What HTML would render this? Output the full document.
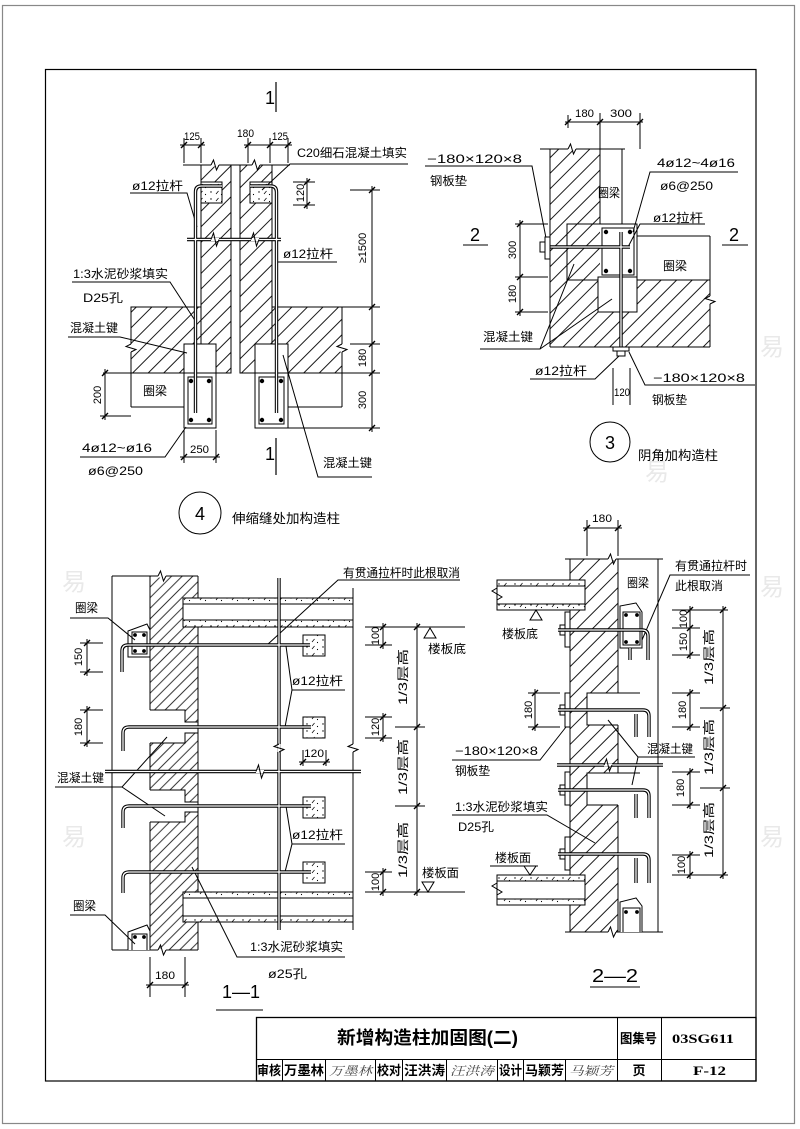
<!DOCTYPE html>
<html><head><meta charset="utf-8">
<style>
html,body{margin:0;padding:0;background:#fff;}
svg{display:block;}
text{font-family:"Liberation Sans","Noto Sans CJK SC",sans-serif;fill:#000;stroke:none;}
.c{font-size:12px;}
.n{font-size:11px;}
.b{font-size:18px;}
.t{font-family:"Liberation Sans","Noto Sans CJK SC",sans-serif;font-weight:bold;font-size:13px;}
.sg{font-family:"Liberation Serif","Noto Serif CJK SC",serif;font-style:italic;font-size:12px;fill:#444;}
</style></head><body>
<svg width="800" height="1129" viewBox="0 0 800 1129" xmlns="http://www.w3.org/2000/svg">
<defs>
<pattern id="h" width="11" height="11" patternUnits="userSpaceOnUse" patternTransform="rotate(45)">
<line x1="5.5" y1="0" x2="5.5" y2="11" stroke="#000" stroke-width="0.9"/>
</pattern>
<pattern id="h2" width="7.5" height="7.5" patternUnits="userSpaceOnUse" patternTransform="rotate(45)">
<line x1="3.75" y1="0" x2="3.75" y2="7.5" stroke="#000" stroke-width="0.8"/>
</pattern>
<pattern id="st" width="16" height="7" patternUnits="userSpaceOnUse">
<circle cx="3" cy="3" r="0.7" fill="#000"/><line x1="8" y1="5" x2="10.5" y2="2" stroke="#000" stroke-width="0.7"/><circle cx="13.5" cy="5.5" r="0.6" fill="#000"/>
</pattern>
<g id="rods" fill="none">
<!-- detail 4 -->
<path d="M195.5,413 L195.5,192 Q195.5,186 201.5,186 L222,186"/>
<path d="M276.5,413 L276.5,192 Q276.5,186 270.5,186 L250,186"/>
<path d="M187,239.5 L281,239.5"/>
<!-- detail 3 -->
<path d="M540,247 L630,247"/>
<path d="M621,232 L621,354"/>
<!-- 1-1 -->
<path d="M279,578 L279,930"/>
<path d="M105,771.5 L361,771.5"/>
<path d="M310,645 L128,645 Q122,645 122,651 L122,672"/>
<path d="M311,727 L129,727 Q123,727 123,733 L123,751"/>
<path d="M311,806 L129,806 Q123,806 123,812 L123,828"/>
<path d="M311,872 L129,872 Q123,872 123,878 L123,893"/>
<!-- 2-2 -->
<path d="M558,630 L642,630 Q648,630 648,636 L648,660"/>
<path d="M558,710 L643,710 Q649,710 649,716 L649,737"/>
<path d="M558,790 L643,790 Q649,790 649,796 L649,818"/>
<path d="M558,854 L643,854 Q649,854 649,860 L649,883"/>
<path d="M557,765 L663,765"/>
<path d="M630,648 L630,660 M636,714 L636,737 M636,794 L636,818 M636,858 L636,883"/>
</g>
</defs>

<!-- frames -->
<rect x="2.5" y="5.5" width="792" height="1118" fill="none" stroke="#888" stroke-width="1.2"/>
<rect x="45.5" y="69.5" width="710.5" height="1011.5" fill="none" stroke="#000" stroke-width="1.2"/>

<!-- faint watermark -->
<g style="font-family:'Noto Sans CJK SC',sans-serif;font-size:24px">
<text x="62" y="590" style="fill:#e9e9e9">易</text>
<text x="62" y="845" style="fill:#e9e9e9">易</text>
<text x="760" y="355" style="fill:#e9e9e9">易</text>
<text x="760" y="595" style="fill:#e9e9e9">易</text>
<text x="760" y="845" style="fill:#e9e9e9">易</text>
<text x="645" y="480" style="fill:#e9e9e9">易</text>
</g>

<g fill="none" stroke="#000" stroke-width="1">
<!-- ================= DETAIL 4 ================= -->
<rect x="131" y="307" width="70" height="66" fill="url(#h)"/>
<rect x="272" y="307" width="70" height="66" fill="url(#h)"/>
<rect x="201" y="165" width="30" height="208" fill="url(#h)"/>
<rect x="240" y="165" width="32" height="208" fill="url(#h)"/>
<line x1="183" y1="165" x2="290" y2="165"/>
<rect x="201" y="182" width="21" height="21" fill="#fff"/>
<rect x="201" y="182" width="21" height="21" fill="url(#st)"/>
<rect x="250" y="182" width="22" height="21" fill="#fff"/>
<rect x="250" y="182" width="22" height="21" fill="url(#st)"/>
<rect x="184" y="344" width="32" height="29" fill="#fff"/>
<rect x="255" y="344" width="33" height="29" fill="#fff"/>
<rect x="184" y="373" width="32" height="55" fill="#fff"/>
<rect x="188" y="377" width="24" height="47"/>
<rect x="255" y="373" width="33" height="55" fill="#fff"/>
<rect x="259" y="377" width="25" height="47"/>
<line x1="103" y1="373" x2="184" y2="373"/>
<line x1="131" y1="407" x2="184" y2="407"/>
<line x1="131" y1="373" x2="131" y2="407"/>
<line x1="288" y1="373" x2="380" y2="373"/>
<line x1="288" y1="407" x2="342" y2="407"/>
<line x1="342" y1="373" x2="342" y2="407"/>
<line x1="288" y1="428" x2="380" y2="428"/>
<line x1="100" y1="416" x2="131" y2="416"/>
<!-- section lines -->
<line x1="276" y1="82" x2="276" y2="112" stroke-width="1.2"/>
<line x1="276" y1="438" x2="276" y2="475" stroke-width="1.2"/>
<!-- dims -->
<line x1="180" y1="145" x2="205" y2="145"/>
<line x1="184" y1="138" x2="184" y2="163"/>
<line x1="201" y1="138" x2="201" y2="163"/>
<line x1="244" y1="145" x2="292" y2="145"/>
<line x1="248" y1="138" x2="248" y2="163"/>
<line x1="270" y1="138" x2="270" y2="163"/>
<line x1="288" y1="138" x2="288" y2="163"/>
<line x1="293" y1="182" x2="315" y2="182"/>
<line x1="293" y1="205" x2="315" y2="205"/>
<line x1="307" y1="178" x2="307" y2="209"/>
<line x1="350" y1="190" x2="380" y2="190"/>
<line x1="342" y1="307" x2="380" y2="307"/>
<line x1="350" y1="344" x2="380" y2="344"/>
<line x1="372" y1="186" x2="372" y2="432"/>
<line x1="105" y1="369" x2="105" y2="420"/>
<line x1="184" y1="430" x2="184" y2="463"/>
<line x1="216" y1="430" x2="216" y2="463"/>
<line x1="180" y1="457" x2="220" y2="457"/>
<!-- leaders -->
<polyline points="130,193 187,193 197,227"/>
<polyline points="408,164 290,164 262,190"/>
<line x1="276" y1="262" x2="337" y2="262"/>
<polyline points="72,282 170,282 196,322"/>
<polyline points="68,337 120,337 187,353"/>
<polyline points="80,457 165,457 186,427"/>
<polyline points="372,477 318,477 283,355"/>
<circle cx="200" cy="513" r="21"/>

<!-- ================= DETAIL 3 ================= -->
<rect x="550" y="149" width="50" height="198" fill="url(#h)" stroke="none"/>
<rect x="600" y="280" width="110" height="67" fill="url(#h)" stroke="none"/>
<line x1="550" y1="149" x2="550" y2="347"/>
<line x1="600" y1="149" x2="600" y2="224"/>
<line x1="540" y1="149" x2="625" y2="149"/>
<line x1="622" y1="149" x2="622" y2="224"/>
<rect x="567" y="224" width="70" height="56"/>
<rect x="602" y="228" width="32" height="47" fill="#fff"/>
<rect x="598" y="277" width="39" height="35" fill="#fff"/>
<line x1="637" y1="236" x2="710" y2="236"/>
<line x1="637" y1="280" x2="710" y2="280"/>
<line x1="710" y1="236" x2="710" y2="347"/>
<line x1="550" y1="347" x2="710" y2="347"/>
<!-- dims -->
<line x1="565" y1="122" x2="643" y2="122"/>
<line x1="568" y1="115" x2="568" y2="128"/>
<line x1="600" y1="113" x2="600" y2="149"/>
<line x1="640" y1="113" x2="640" y2="149"/>
<line x1="520" y1="220" x2="520" y2="316"/>
<line x1="515" y1="224" x2="548" y2="224"/>
<line x1="515" y1="277" x2="548" y2="277"/>
<line x1="515" y1="312" x2="548" y2="312"/>
<line x1="613" y1="368" x2="613" y2="405"/>
<line x1="630" y1="368" x2="630" y2="405"/>
<!-- section marks -->
<line x1="463" y1="245" x2="488" y2="245"/>
<line x1="722" y1="245" x2="748" y2="245"/>
<!-- leaders -->
<polyline points="425,166 532,166 546,238"/>
<polyline points="738,172 650,172 633,232"/>
<polyline points="705,224 640,224 628,247"/>
<polyline points="480,349 540,349 574,264"/>
<line x1="540" y1="349" x2="612" y2="299"/>
<polyline points="530,379 595,379 619,356"/>
<polyline points="755,385 645,385 629,352"/>
<circle cx="610" cy="442" r="20"/>

<!-- ================= 1-1 ================= -->
<rect x="150" y="576" width="48" height="374" fill="url(#h2)" stroke="none"/>
<polygon points="150,710 185,710 185,722 198,722 198,733 185,733 185,743 150,743" fill="#fff" stroke="none"/>
<polygon points="150,790 185,790 185,802 198,802 198,812 185,812 185,822 150,822" fill="#fff" stroke="none"/>
<polyline points="150,710 185,710 185,722 198,722"/>
<polyline points="198,733 185,733 185,743 150,743"/>
<polyline points="150,790 185,790 185,802 198,802"/>
<polyline points="198,812 185,812 185,822 150,822"/>
<line x1="150" y1="576" x2="150" y2="710"/>
<line x1="150" y1="743" x2="150" y2="790"/>
<line x1="150" y1="822" x2="150" y2="950"/>
<line x1="198" y1="576" x2="198" y2="950"/>
<line x1="112" y1="576" x2="112" y2="950"/>
<line x1="112" y1="576" x2="198" y2="576"/>
<line x1="112" y1="950" x2="198" y2="950"/>
<!-- ring beams -->
<path d="M128,657 L128,631 L147,624 L150,630 L150,657 Z" fill="#fff"/>
<rect x="132" y="632" width="15" height="22"/>
<path d="M128,950 L128,932 L147,925 L150,931 L150,950" fill="#fff"/>
<path d="M132,950 L132,934 L147,934 L147,950"/>
<!-- slabs -->
<rect x="183" y="598" width="170" height="29" fill="#fff"/>
<rect x="183" y="598" width="170" height="6" fill="url(#st)"/>
<rect x="183" y="620" width="170" height="7" fill="url(#st)"/>
<rect x="183" y="892" width="170" height="30" fill="#fff"/>
<rect x="183" y="892" width="170" height="6" fill="url(#st)"/>
<rect x="183" y="916" width="170" height="6" fill="url(#st)"/>
<line x1="353" y1="588" x2="353" y2="930"/>
<!-- C20 blocks -->
<rect x="303" y="635" width="22" height="21" fill="#fff"/><rect x="303" y="635" width="22" height="21" fill="url(#st)"/>
<rect x="303" y="717" width="22" height="21" fill="#fff"/><rect x="303" y="717" width="22" height="21" fill="url(#st)"/>
<rect x="303" y="797" width="22" height="21" fill="#fff"/><rect x="303" y="797" width="22" height="21" fill="url(#st)"/>
<rect x="303" y="862" width="22" height="21" fill="#fff"/><rect x="303" y="862" width="22" height="21" fill="url(#st)"/>
<!-- dims -->
<line x1="87" y1="639" x2="87" y2="676"/>
<line x1="80" y1="643" x2="103" y2="643"/>
<line x1="80" y1="672" x2="103" y2="672"/>
<line x1="87" y1="706" x2="87" y2="747"/>
<line x1="80" y1="710" x2="103" y2="710"/>
<line x1="80" y1="743" x2="103" y2="743"/>
<line x1="365" y1="627" x2="465" y2="627"/>
<line x1="365" y1="645" x2="392" y2="645"/>
<line x1="365" y1="717" x2="392" y2="717"/>
<line x1="365" y1="738" x2="392" y2="738"/>
<line x1="365" y1="872" x2="392" y2="872"/>
<line x1="365" y1="892" x2="465" y2="892"/>
<line x1="395" y1="727" x2="425" y2="727"/>
<line x1="395" y1="806" x2="425" y2="806"/>
<line x1="383" y1="623" x2="383" y2="649"/>
<line x1="383" y1="713" x2="383" y2="742"/>
<line x1="383" y1="868" x2="383" y2="896"/>
<line x1="417" y1="623" x2="417" y2="896"/>
<line x1="299" y1="762" x2="330" y2="762"/>
<line x1="303" y1="750" x2="303" y2="766"/>
<line x1="326" y1="750" x2="326" y2="766"/>
<line x1="150" y1="957" x2="150" y2="997"/>
<line x1="185" y1="957" x2="185" y2="997"/>
<line x1="146" y1="985" x2="189" y2="985"/>
<polygon points="430,628 424,638 436,638"/>
<polygon points="428,892 422,882 434,882"/>
<line x1="216" y1="1010" x2="263" y2="1010"/>
<!-- leaders -->
<polyline points="460,580 338,580 267,645"/>
<polyline points="70,618 108,618 135,640"/>
<polyline points="345,690 292,690 286,646"/>
<line x1="292" y1="690" x2="285" y2="727"/>
<polyline points="345,844 292,844 286,806"/>
<line x1="292" y1="844" x2="285" y2="872"/>
<polyline points="55,787 122,787 167,737"/>
<line x1="122" y1="787" x2="165" y2="816"/>
<polyline points="70,915 105,915 135,944"/>
<polyline points="345,957 237,957 192,867"/>

<!-- ================= 2-2 ================= -->
<rect x="570" y="559" width="48" height="373" fill="url(#h)" stroke="none"/>
<rect x="587" y="693" width="31" height="32" fill="#fff" stroke="none"/>
<rect x="587" y="773" width="31" height="32" fill="#fff" stroke="none"/>
<polyline points="640,693 587,693 587,725 618,725"/>
<polyline points="640,773 587,773 587,805 618,805"/>
<line x1="570" y1="559" x2="570" y2="932"/>
<line x1="618" y1="559" x2="618" y2="693"/>
<line x1="618" y1="725" x2="618" y2="773"/>
<line x1="618" y1="805" x2="618" y2="932"/>
<line x1="658" y1="559" x2="658" y2="932"/>
<line x1="565" y1="559" x2="663" y2="559"/>
<line x1="565" y1="932" x2="663" y2="932"/>
<path d="M620,648 L620,606 L636,603 L642,612 L642,648 Z" fill="#fff"/>
<rect x="623" y="612" width="17" height="33"/>
<path d="M620,932 L620,902 L636,898 L642,906 L642,932" fill="#fff"/>
<path d="M623,932 L623,908 L640,908 L640,932"/>
<rect x="497" y="580" width="88" height="30" fill="#fff"/>
<rect x="497" y="580" width="88" height="6" fill="url(#st)"/>
<rect x="497" y="604" width="88" height="6" fill="url(#st)"/>
<rect x="497" y="875" width="88" height="30" fill="#fff"/>
<rect x="497" y="875" width="88" height="6" fill="url(#st)"/>
<rect x="497" y="899" width="88" height="6" fill="url(#st)"/>
<!-- plates -->
<rect x="565" y="612" width="5" height="35" fill="#fff"/>
<rect x="565" y="693" width="5" height="34" fill="#fff"/>
<rect x="565" y="772" width="5" height="33" fill="#fff"/>
<rect x="565" y="837" width="5" height="33" fill="#fff"/>
<rect x="560" y="625" width="5" height="10" fill="#fff"/>
<rect x="560" y="705" width="5" height="10" fill="#fff"/>
<rect x="560" y="785" width="5" height="10" fill="#fff"/>
<rect x="560" y="849" width="5" height="10" fill="#fff"/>
<!-- dims -->
<line x1="587" y1="520" x2="587" y2="556"/>
<line x1="618" y1="520" x2="618" y2="556"/>
<line x1="583" y1="528" x2="622" y2="528"/>
<line x1="535" y1="689" x2="535" y2="731"/>
<line x1="528" y1="693" x2="560" y2="693"/>
<line x1="528" y1="727" x2="560" y2="727"/>
<line x1="672" y1="610" x2="728" y2="610"/>
<line x1="672" y1="628" x2="700" y2="628"/>
<line x1="672" y1="655" x2="700" y2="655"/>
<line x1="672" y1="693" x2="700" y2="693"/>
<line x1="672" y1="727" x2="700" y2="727"/>
<line x1="672" y1="772" x2="700" y2="772"/>
<line x1="672" y1="805" x2="700" y2="805"/>
<line x1="672" y1="855" x2="700" y2="855"/>
<line x1="672" y1="875" x2="728" y2="875"/>
<line x1="700" y1="708" x2="730" y2="708"/>
<line x1="700" y1="788" x2="730" y2="788"/>
<line x1="690" y1="606" x2="690" y2="659"/>
<line x1="690" y1="689" x2="690" y2="731"/>
<line x1="690" y1="768" x2="690" y2="809"/>
<line x1="690" y1="851" x2="690" y2="879"/>
<line x1="723" y1="606" x2="723" y2="879"/>
<polygon points="536,610 530,620 542,620"/>
<line x1="490" y1="866" x2="538" y2="866"/>
<polygon points="530,875 524,866 536,866"/>
<line x1="590" y1="987" x2="640" y2="987"/>
<!-- leaders -->
<polyline points="750,575 670,575 642,640"/>
<polyline points="695,757 638,757 608,720"/>
<line x1="638" y1="757" x2="632" y2="785"/>
<polyline points="452,760 540,760 566,727"/>
<polyline points="452,815 547,815 595,843"/>
</g>

<!-- dimension ticks -->
<path fill="none" stroke="#000" stroke-width="1.4" d="M181,148l6-6 M198,148l6-6 M245,148l6-6 M267,148l6-6 M285,148l6-6 M304,185l6-6 M304,208l6-6 M369,193l6-6 M369,310l6-6 M369,347l6-6 M369,376l6-6 M369,431l6-6 M102,376l6-6 M102,419l6-6 M181,460l6-6 M213,460l6-6 M565,125l6-6 M597,125l6-6 M637,125l6-6 M517,227l6-6 M517,280l6-6 M517,315l6-6 M84,646l6-6 M84,675l6-6 M84,713l6-6 M84,746l6-6 M380,630l6-6 M380,648l6-6 M380,720l6-6 M380,741l6-6 M380,875l6-6 M380,895l6-6 M414,630l6-6 M414,730l6-6 M414,809l6-6 M414,895l6-6 M300,765l6-6 M323,765l6-6 M147,988l6-6 M182,988l6-6 M584,531l6-6 M615,531l6-6 M532,696l6-6 M532,730l6-6 M687,613l6-6 M687,631l6-6 M687,658l6-6 M687,696l6-6 M687,730l6-6 M687,775l6-6 M687,808l6-6 M687,858l6-6 M687,878l6-6 M720,613l6-6 M720,711l6-6 M720,791l6-6 M720,878l6-6"/>

<!-- rods (double line) -->
<use href="#rods" stroke="#000" stroke-width="3.4"/>
<use href="#rods" stroke="#fff" stroke-width="1.3"/>

<!-- rebar dots -->
<g fill="#000">
<circle cx="191" cy="381" r="2.2"/><circle cx="209" cy="381" r="2.2"/><circle cx="191" cy="420" r="2.2"/><circle cx="209" cy="420" r="2.2"/>
<circle cx="262" cy="381" r="2.2"/><circle cx="281" cy="381" r="2.2"/><circle cx="262" cy="420" r="2.2"/><circle cx="281" cy="420" r="2.2"/>
<circle cx="606" cy="232" r="2.2"/><circle cx="630" cy="232" r="2.2"/><circle cx="606" cy="271" r="2.2"/><circle cx="630" cy="271" r="2.2"/>
<circle cx="135" cy="635" r="1.9"/><circle cx="144" cy="635" r="1.9"/><circle cx="135" cy="651" r="1.9"/><circle cx="144" cy="651" r="1.9"/>
<circle cx="135" cy="937" r="1.9"/><circle cx="144" cy="937" r="1.9"/>
<circle cx="626" cy="615" r="1.9"/><circle cx="637" cy="615" r="1.9"/><circle cx="626" cy="642" r="1.9"/><circle cx="637" cy="642" r="1.9"/>
<circle cx="626" cy="912" r="1.9"/><circle cx="637" cy="912" r="1.9"/>
</g>
<!-- small plates detail 3 -->
<rect x="613" y="347" width="16" height="4" fill="#fff" stroke="#000"/>
<rect x="617" y="351" width="8" height="5" fill="#fff" stroke="#000"/>
<rect x="545" y="237" width="5" height="22" fill="#fff" stroke="#000"/>
<rect x="540" y="242" width="5" height="10" fill="#fff" stroke="#000"/>

<!-- break symbols -->
<g stroke="#fff" stroke-width="3" fill="none">
<path d="M211,165h8 M252,165h8 M568,149h8 M158,576h8 M158,950h8 M608,559h8 M608,932h8 M256,771.5h8 M604,765h8 M211,239.5h8 M251,239.5h8"/>
<path d="M353,744v8 M279,744v8 M710,296v8 M131,344v8 M342,344v8"/>
</g>
<g stroke="#000" stroke-width="1" fill="none">
<path d="M211,165 L213.5,160 L216.5,170 L219,165 M252,165 L254.5,160 L257.5,170 L260,165 M568,149 L570.5,144 L573.5,154 L576,149 M158,576 L160.5,571 L163.5,581 L166,576 M158,950 L160.5,945 L163.5,955 L166,950 M608,559 L610.5,554 L613.5,564 L616,559 M608,932 L610.5,927 L613.5,937 L616,932"/>
<path d="M256,771.5 L258.5,765 L261.5,778 L264,771.5 M604,765 L606.5,759 L609.5,771 L612,765 M211,239.5 L213.5,233 L216.5,246 L219,239.5 M251,239.5 L253.5,233 L256.5,246 L259,239.5"/>
<path d="M353,744 L348,746.5 L358,749.5 L353,752 M279,744 L274,746.5 L284,749.5 L279,752 M710,296 L705,298.5 L715,301.5 L710,304 M131,344 L126,346.5 L136,349.5 L131,352 M342,344 L337,346.5 L347,349.5 L342,352"/>
<path d="M497,588 L492,591 L502,597 L497,600 M497,883 L492,886 L502,892 L497,895"/>
</g>

<!-- ================= TEXT ================= -->
<!-- detail 4 -->
<text class="b" x="265" y="104">1</text>
<text class="b" x="265" y="460">1</text>
<text class="n" x="184" y="140" textLength="16" lengthAdjust="spacingAndGlyphs">125</text>
<text class="n" x="237" y="137" textLength="17" lengthAdjust="spacingAndGlyphs">180</text>
<text class="n" x="272" y="140" textLength="16" lengthAdjust="spacingAndGlyphs">125</text>
<text class="c" x="132" y="190" textLength="51" lengthAdjust="spacingAndGlyphs">ø12拉杆</text>
<text class="c" x="297" y="157" textLength="110" lengthAdjust="spacingAndGlyphs">C20细石混凝土填实</text>
<text class="c" x="283" y="258" textLength="50" lengthAdjust="spacingAndGlyphs">ø12拉杆</text>
<text class="c" x="73" y="278" textLength="95" lengthAdjust="spacingAndGlyphs">1:3水泥砂浆填实</text>
<text class="c" x="83" y="302" textLength="40" lengthAdjust="spacingAndGlyphs">D25孔</text>
<text class="c" x="70" y="332" textLength="48" lengthAdjust="spacingAndGlyphs">混凝土键</text>
<text class="c" x="143" y="395" textLength="24" lengthAdjust="spacingAndGlyphs">圈梁</text>
<text class="c" x="82" y="452" textLength="70" lengthAdjust="spacingAndGlyphs">4ø12~ø16</text>
<text class="c" x="88" y="475" textLength="55" lengthAdjust="spacingAndGlyphs">ø6@250</text>
<text class="n" x="190" y="453" textLength="19" lengthAdjust="spacingAndGlyphs">250</text>
<text class="c" x="323" y="467" textLength="49" lengthAdjust="spacingAndGlyphs">混凝土键</text>
<text class="n" transform="translate(300,193) rotate(-90)" text-anchor="middle" dy="4">120</text>
<text class="n" transform="translate(362,248) rotate(-90)" text-anchor="middle" dy="4">≥1500</text>
<text class="n" transform="translate(362,358) rotate(-90)" text-anchor="middle" dy="4">180</text>
<text class="n" transform="translate(362,400) rotate(-90)" text-anchor="middle" dy="4">300</text>
<text class="n" transform="translate(97,395) rotate(-90)" text-anchor="middle" dy="4">200</text>
<text class="b" x="200" y="520" text-anchor="middle">4</text>
<text class="c" x="232" y="523" style="font-size:13px" textLength="108" lengthAdjust="spacingAndGlyphs">伸缩缝处加构造柱</text>

<!-- detail 3 -->
<text class="n" x="575" y="117" textLength="19" lengthAdjust="spacingAndGlyphs">180</text>
<text class="n" x="610" y="117" textLength="22" lengthAdjust="spacingAndGlyphs">300</text>
<text class="c" x="427" y="163" textLength="95" lengthAdjust="spacingAndGlyphs">−180×120×8</text>
<text class="c" x="430" y="185" textLength="37" lengthAdjust="spacingAndGlyphs">钢板垫</text>
<text class="c" x="657" y="167" textLength="78" lengthAdjust="spacingAndGlyphs">4ø12~4ø16</text>
<text class="c" x="660" y="190" textLength="53" lengthAdjust="spacingAndGlyphs">ø6@250</text>
<text class="c" x="598" y="197" textLength="22" lengthAdjust="spacingAndGlyphs">圈梁</text>
<text class="c" x="653" y="222" textLength="50" lengthAdjust="spacingAndGlyphs">ø12拉杆</text>
<text class="c" x="663" y="270" textLength="24" lengthAdjust="spacingAndGlyphs">圈梁</text>
<text class="b" x="470" y="241">2</text>
<text class="b" x="729" y="241">2</text>
<text class="n" transform="translate(512,250) rotate(-90)" text-anchor="middle" dy="4">300</text>
<text class="n" transform="translate(512,294) rotate(-90)" text-anchor="middle" dy="4">180</text>
<text class="c" x="483" y="341" textLength="50" lengthAdjust="spacingAndGlyphs">混凝土键</text>
<text class="c" x="535" y="375" textLength="52" lengthAdjust="spacingAndGlyphs">ø12拉杆</text>
<text class="c" x="653" y="382" textLength="92" lengthAdjust="spacingAndGlyphs">−180×120×8</text>
<text class="c" x="652" y="404" textLength="35" lengthAdjust="spacingAndGlyphs">钢板垫</text>
<text class="n" x="614" y="396" textLength="16" lengthAdjust="spacingAndGlyphs">120</text>
<text class="b" x="610" y="449" text-anchor="middle">3</text>
<text class="c" x="638" y="460" style="font-size:13px" textLength="80" lengthAdjust="spacingAndGlyphs">阴角加构造柱</text>

<!-- 1-1 -->
<text class="c" x="343" y="577" textLength="117" lengthAdjust="spacingAndGlyphs">有贯通拉杆时此根取消</text>
<text class="c" x="75" y="612" textLength="23" lengthAdjust="spacingAndGlyphs">圈梁</text>
<text class="n" transform="translate(78,657) rotate(-90)" text-anchor="middle" dy="4">150</text>
<text class="n" transform="translate(78,727) rotate(-90)" text-anchor="middle" dy="4">180</text>
<text class="c" x="292" y="685" textLength="51" lengthAdjust="spacingAndGlyphs">ø12拉杆</text>
<text class="c" x="292" y="839" textLength="51" lengthAdjust="spacingAndGlyphs">ø12拉杆</text>
<text class="n" transform="translate(375,636) rotate(-90)" text-anchor="middle" dy="4">100</text>
<text class="n" transform="translate(375,727) rotate(-90)" text-anchor="middle" dy="4">120</text>
<text class="n" transform="translate(375,882) rotate(-90)" text-anchor="middle" dy="4">100</text>
<text class="c" transform="translate(403,677) rotate(-90)" text-anchor="middle" dy="4" textLength="56" lengthAdjust="spacingAndGlyphs">1/3层高</text>
<text class="c" transform="translate(403,767) rotate(-90)" text-anchor="middle" dy="4" textLength="56" lengthAdjust="spacingAndGlyphs">1/3层高</text>
<text class="c" transform="translate(403,850) rotate(-90)" text-anchor="middle" dy="4" textLength="56" lengthAdjust="spacingAndGlyphs">1/3层高</text>
<text class="n" x="304" y="757" textLength="20" lengthAdjust="spacingAndGlyphs">120</text>
<text class="c" x="428" y="653" textLength="38" lengthAdjust="spacingAndGlyphs">楼板底</text>
<text class="c" x="422" y="877" textLength="37" lengthAdjust="spacingAndGlyphs">楼板面</text>
<text class="c" x="57" y="782" textLength="47" lengthAdjust="spacingAndGlyphs">混凝土键</text>
<text class="c" x="73" y="910" textLength="23" lengthAdjust="spacingAndGlyphs">圈梁</text>
<text class="c" x="250" y="951" textLength="93" lengthAdjust="spacingAndGlyphs">1:3水泥砂浆填实</text>
<text class="c" x="268" y="978" textLength="39" lengthAdjust="spacingAndGlyphs">ø25孔</text>
<text class="n" x="155" y="979" textLength="20" lengthAdjust="spacingAndGlyphs">180</text>
<text class="b" x="222" y="998" textLength="38" lengthAdjust="spacingAndGlyphs">1—1</text>

<!-- 2-2 -->
<text class="n" x="592" y="522" textLength="20" lengthAdjust="spacingAndGlyphs">180</text>
<text class="c" x="675" y="570" textLength="72" lengthAdjust="spacingAndGlyphs">有贯通拉杆时</text>
<text class="c" x="675" y="590" textLength="48" lengthAdjust="spacingAndGlyphs">此根取消</text>
<text class="c" x="627" y="587" textLength="22" lengthAdjust="spacingAndGlyphs">圈梁</text>
<text class="c" x="502" y="638" textLength="36" lengthAdjust="spacingAndGlyphs">楼板底</text>
<text class="n" transform="translate(683,619) rotate(-90)" text-anchor="middle" dy="4">100</text>
<text class="n" transform="translate(683,642) rotate(-90)" text-anchor="middle" dy="4">150</text>
<text class="n" transform="translate(682,710) rotate(-90)" text-anchor="middle" dy="4">180</text>
<text class="n" transform="translate(680,788) rotate(-90)" text-anchor="middle" dy="4">180</text>
<text class="n" transform="translate(681,865) rotate(-90)" text-anchor="middle" dy="4">100</text>
<text class="c" transform="translate(709,657) rotate(-90)" text-anchor="middle" dy="4" textLength="56" lengthAdjust="spacingAndGlyphs">1/3层高</text>
<text class="c" transform="translate(709,747) rotate(-90)" text-anchor="middle" dy="4" textLength="56" lengthAdjust="spacingAndGlyphs">1/3层高</text>
<text class="c" transform="translate(709,830) rotate(-90)" text-anchor="middle" dy="4" textLength="56" lengthAdjust="spacingAndGlyphs">1/3层高</text>
<text class="n" transform="translate(528,710) rotate(-90)" text-anchor="middle" dy="4">180</text>
<text class="c" x="647" y="753" textLength="46" lengthAdjust="spacingAndGlyphs">混凝土键</text>
<text class="c" x="455" y="755" textLength="83" lengthAdjust="spacingAndGlyphs">−180×120×8</text>
<text class="c" x="455" y="775" textLength="35" lengthAdjust="spacingAndGlyphs">钢板垫</text>
<text class="c" x="455" y="811" textLength="93" lengthAdjust="spacingAndGlyphs">1:3水泥砂浆填实</text>
<text class="c" x="458" y="831" textLength="36" lengthAdjust="spacingAndGlyphs">D25孔</text>
<text class="c" x="495" y="862" textLength="36" lengthAdjust="spacingAndGlyphs">楼板面</text>
<text class="b" x="592" y="982" textLength="46" lengthAdjust="spacingAndGlyphs">2—2</text>

<!-- ================= TITLE BLOCK ================= -->
<g fill="none" stroke="#000" stroke-width="1">
<rect x="256.5" y="1017.5" width="499.5" height="63.5" stroke-width="1.3"/>
<line x1="256" y1="1059.5" x2="756" y2="1059.5"/>
<line x1="617.5" y1="1017" x2="617.5" y2="1081"/>
<line x1="661.5" y1="1017" x2="661.5" y2="1081"/>
<line x1="282.5" y1="1059" x2="282.5" y2="1081"/>
<line x1="325.5" y1="1059" x2="325.5" y2="1081"/>
<line x1="375.5" y1="1059" x2="375.5" y2="1081"/>
<line x1="402.5" y1="1059" x2="402.5" y2="1081"/>
<line x1="446.5" y1="1059" x2="446.5" y2="1081"/>
<line x1="497.5" y1="1059" x2="497.5" y2="1081"/>
<line x1="523.5" y1="1059" x2="523.5" y2="1081"/>
<line x1="565.5" y1="1059" x2="565.5" y2="1081"/>
</g>
<text class="t" x="337" y="1044" style="font-size:18px" textLength="181" lengthAdjust="spacingAndGlyphs">新增构造柱加固图(二)</text>
<text class="t" x="620" y="1043" textLength="37" lengthAdjust="spacingAndGlyphs">图集号</text>
<text x="672" y="1043" style="font-family:'Liberation Serif',serif;font-weight:bold;font-size:13px" textLength="62" lengthAdjust="spacingAndGlyphs">03SG611</text>
<text class="t" x="257" y="1075" textLength="24" lengthAdjust="spacingAndGlyphs">审核</text>
<text class="t" x="284" y="1075" textLength="40" lengthAdjust="spacingAndGlyphs">万墨林</text>
<text class="sg" x="329" y="1075" textLength="43" lengthAdjust="spacingAndGlyphs">万墨林</text>
<text class="t" x="377" y="1075" textLength="24" lengthAdjust="spacingAndGlyphs">校对</text>
<text class="t" x="404" y="1075" textLength="41" lengthAdjust="spacingAndGlyphs">汪洪涛</text>
<text class="sg" x="450" y="1075" textLength="44" lengthAdjust="spacingAndGlyphs">汪洪涛</text>
<text class="t" x="499" y="1075" textLength="23" lengthAdjust="spacingAndGlyphs">设计</text>
<text class="t" x="525" y="1075" textLength="39" lengthAdjust="spacingAndGlyphs">马颖芳</text>
<text class="sg" x="569" y="1075" textLength="44" lengthAdjust="spacingAndGlyphs">马颖芳</text>
<text class="t" x="639" y="1075" text-anchor="middle">页</text>
<text x="693" y="1075" style="font-family:'Liberation Serif',serif;font-weight:bold;font-size:13px" textLength="33" lengthAdjust="spacingAndGlyphs">F-12</text>
</svg>
</body></html>
